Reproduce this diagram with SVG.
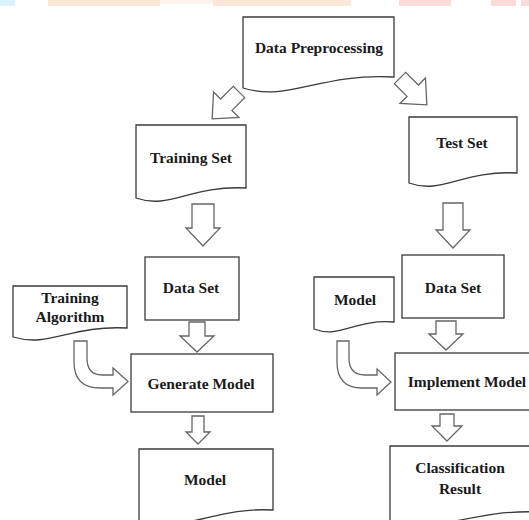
<svg xmlns="http://www.w3.org/2000/svg" width="529" height="520" viewBox="0 0 529 520">
<style>
.box{fill:#fff;stroke:#3a3a3a;stroke-width:1.3}
.arr{fill:#fff;stroke:#666;stroke-width:1.3;stroke-linejoin:miter}
.t{font-family:"Liberation Serif","Times New Roman",serif;font-weight:bold;font-size:15.5px;fill:#1a1a1a;text-anchor:middle}
</style>
<rect width="529" height="520" fill="#fff"/>
<g id="band">
<rect x="0" y="0" width="15" height="6" fill="#ddf3fb"/>
<rect x="48" y="0" width="112" height="6" fill="#fde7d8"/>
<rect x="160" y="0" width="53" height="4" fill="#fff4ec"/>
<rect x="213" y="0" width="138" height="6" fill="#fde7d8"/>
<rect x="399" y="0" width="52" height="6" fill="#fcdcd8"/>
<rect x="491" y="0" width="25" height="6" fill="#fcdcd8"/>
<rect x="521" y="0" width="8" height="6" fill="#fcdcd8"/>
</g>
<g id="connectors">
<path class="arr" transform="translate(239,92) rotate(45)" d="M-8,0 H8 V18 H18 L0,38 L-18,18 H-8 Z"/>
<path class="arr" transform="translate(400,78) rotate(-45)" d="M-8,0 H8 V18 H18 L0,38 L-18,18 H-8 Z"/>
<path class="arr" d="M192,204 H214 V228 H220 L203,246 L186,228 H192 Z"/>
<path class="arr" d="M443,203 H463 V230 H470 L453,248 L436,230 H443 Z"/>
<path class="arr" d="M189,322 H205 V336 H214 L197,352 L180,336 H189 Z"/>
<path class="arr" d="M436,321 H456 V334 H463 L446,350 L429,334 H436 Z"/>
<path class="arr" d="M192,416 H204 V432 H210 L198,444 L186,432 H192 Z"/>
<path class="arr" d="M440,414 H454 V426 H462 L447,441 L432,426 H440 Z"/>
<path class="arr" d="M74,341 H87 V358 Q87,375 102,375 H113 V368 L128,381.5 L113,395 V388 H100 Q74,388 74,362 Z"/>
<path class="arr" d="M337,341 H349 V358 Q349,375 365,375 H377 V369 L391,382 L377,395 V388 H362 Q337,388 337,362 Z"/>
</g>
<g id="data-preprocessing">
<path class="box" d="M243,17 H394 V77 C318,73 290,102 243,88 Z"/>
<text class="t" x="319" y="53">Data Preprocessing</text>
</g>
<g id="training-set">
<path class="box" d="M136,125 H246 V188 C190,185 170,210 136,198 Z"/>
<text class="t" x="191" y="163">Training Set</text>
</g>
<g id="test-set">
<path class="box" d="M409,117 H517 V173 C462,170 442,195 409,183 Z"/>
<text class="t" x="462" y="148">Test Set</text>
</g>
<g id="data-set-left">
<rect class="box" x="145" y="257" width="94" height="63"/>
<text class="t" x="191" y="293">Data Set</text>
</g>
<g id="data-set-right">
<rect class="box" x="402" y="255" width="102" height="63"/>
<text class="t" x="453" y="293">Data Set</text>
</g>
<g id="training-algorithm">
<path class="box" d="M13,286 H127 V328 C70,325 50,348 13,337 Z"/>
<text class="t" x="70" y="303">Training</text>
<text class="t" x="70" y="322">Algorithm</text>
</g>
<g id="model-input">
<path class="box" d="M314,277 H394 V322 C354,319 340,339 314,329 Z"/>
<text class="t" x="355" y="305">Model</text>
</g>
<g id="generate-model">
<rect class="box" x="131" y="354" width="142" height="58"/>
<text class="t" x="201" y="389">Generate Model</text>
</g>
<g id="implement-model">
<rect class="box" x="395" y="353" width="145" height="57"/>
<text class="t" x="467" y="387">Implement Model</text>
</g>
<g id="model-output">
<path class="box" d="M139,449 H273 V510 C215,507 190,532 139,522 Z"/>
<text class="t" x="205" y="485">Model</text>
</g>
<g id="classification-result">
<path class="box" d="M390,446 H540 V512 C470,509 440,534 390,524 Z"/>
<text class="t" x="460" y="473">Classification</text>
<text class="t" x="460" y="494">Result</text>
</g>
</svg>
